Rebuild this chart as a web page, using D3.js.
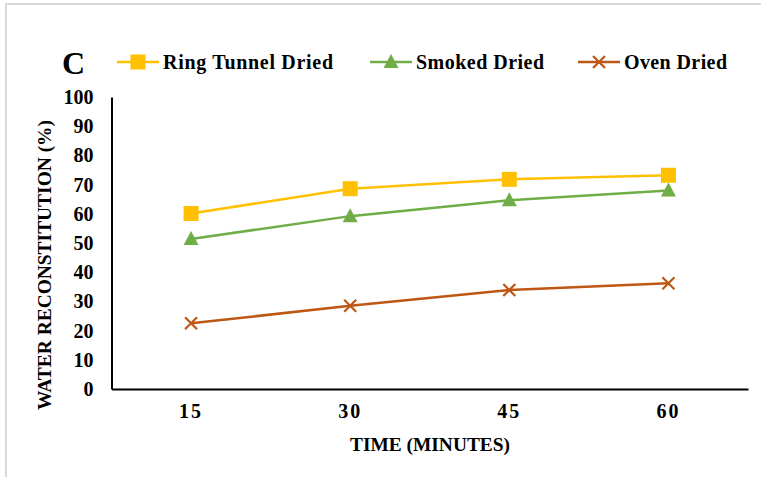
<!DOCTYPE html>
<html>
<head>
<meta charset="utf-8">
<script src="https://cdn.jsdelivr.net/npm/d3@7"></script>
<style>
  html, body { margin: 0; padding: 0; background: #fff; }
  svg { display: block; }
  text { font-family: "Liberation Serif", "Times New Roman", serif; font-weight: bold; fill: #000; }
</style>
</head>
<body>
<svg id="chart" width="761" height="477"></svg>
<script>
const categories = ["15", "30", "45", "60"];
const seriesNames = ["Ring Tunnel Dried", "Smoked Dried", "Oven Dried"];
const ringTunnel = [60.1, 68.6, 71.8, 73.2];
const smoked = [51.4, 59.2, 64.6, 68.0];
const oven = [22.5, 28.5, 33.9, 36.2];
const yTicks = [0, 10, 20, 30, 40, 50, 60, 70, 80, 90, 100];
const colors = ["#FFC000", "#70AD47", "#BE5614"];
const markers = ["square", "triangle", "cross"];

const svg = d3.select("#chart");
const plotLeft = 111.5, plotRight = 748, plotTop = 97, plotBottom = 389;

// outer frame
svg.append("rect").attr("x", 6).attr("y", 4).attr("width", 800).attr("height", 500)
  .attr("fill", "none").attr("stroke", "#d9d9d9").attr("stroke-width", 2);

const x = d3.scaleBand().domain(categories).range([plotLeft, plotRight]).padding(0);
const y = d3.scaleLinear().domain([0, 100]).range([plotBottom, plotTop]);

// y axis
const yAxis = svg.append("g").attr("transform", `translate(${plotLeft},0)`)
  .call(d3.axisLeft(y).tickValues(yTicks).tickSize(0).tickPadding(18).tickFormat(d3.format("d")));
yAxis.select(".domain").attr("stroke", "#000").attr("stroke-width", 2);
yAxis.selectAll("text").style("font-size", "20px").attr("fill", "#000")
  .style("font-family", "Liberation Serif").style("font-weight", "bold");

// x axis
const xAxis = svg.append("g").attr("transform", `translate(0,${plotBottom})`)
  .call(d3.axisBottom(x).tickSize(0).tickPadding(15));
xAxis.select(".domain").attr("stroke", "#000").attr("stroke-width", 2);
xAxis.selectAll("text").style("font-size", "20px").attr("fill", "#000")
  .style("font-family", "Liberation Serif").style("font-weight", "bold")
  .style("letter-spacing", "2px");

// axis titles
svg.append("text").attr("x", 430).attr("y", 451).attr("text-anchor", "middle")
  .style("font-size", "18px").attr("textLength", 160).attr("lengthAdjust", "spacingAndGlyphs")
  .text("TIME (MINUTES)");
svg.append("text").attr("transform", "translate(51,265) rotate(-90)").attr("text-anchor", "middle")
  .style("font-size", "18px").attr("textLength", 290).attr("lengthAdjust", "spacingAndGlyphs")
  .text("WATER RECONSTITUTION (%)");

// series
const allSeries = [ringTunnel, smoked, oven];
const line = d3.line().x((d, i) => x(categories[i]) + x.bandwidth() / 2).y(d => y(d));

function drawMarker(g, type, cx, cy, color) {
  if (type === "square") {
    g.append("rect").attr("x", cx - 7.5).attr("y", cy - 7.5).attr("width", 15).attr("height", 15).attr("fill", color);
  } else if (type === "triangle") {
    g.append("path").attr("d", `M${cx},${cy - 8}L${cx + 7.5},${cy + 6}L${cx - 7.5},${cy + 6}Z`).attr("fill", color);
  } else {
    g.append("path").attr("d", `M${cx - 6},${cy - 6}L${cx + 6},${cy + 6}M${cx - 6},${cy + 6}L${cx + 6},${cy - 6}`)
      .attr("stroke", color).attr("stroke-width", 2.2).attr("fill", "none");
  }
}

allSeries.forEach((vals, si) => {
  const g = svg.append("g");
  g.append("path").datum(vals).attr("d", line).attr("fill", "none")
    .attr("stroke", colors[si]).attr("stroke-width", 2.5);
  vals.forEach((v, i) => {
    drawMarker(g, markers[si], x(categories[i]) + x.bandwidth() / 2, y(v), colors[si]);
  });
});

// panel label
svg.append("text").attr("x", 62).attr("y", 74).style("font-size", "32px").text("C");

// legend
const legendX = [117, 370, 578];
const legendTextW = [170, 128, 103];
const legendY = 62;
seriesNames.forEach((name, si) => {
  const g = svg.append("g");
  const lx = legendX[si];
  g.append("line").attr("x1", lx).attr("x2", lx + 42).attr("y1", legendY).attr("y2", legendY)
    .attr("stroke", colors[si]).attr("stroke-width", 2.5);
  drawMarker(g, markers[si], lx + 21, legendY, colors[si]);
  g.append("text").attr("x", lx + 46).attr("y", legendY + 7).style("font-size", "20px")
    .attr("textLength", legendTextW[si]).attr("lengthAdjust", "spacing").text(name);
});
</script>
</body>
</html>
